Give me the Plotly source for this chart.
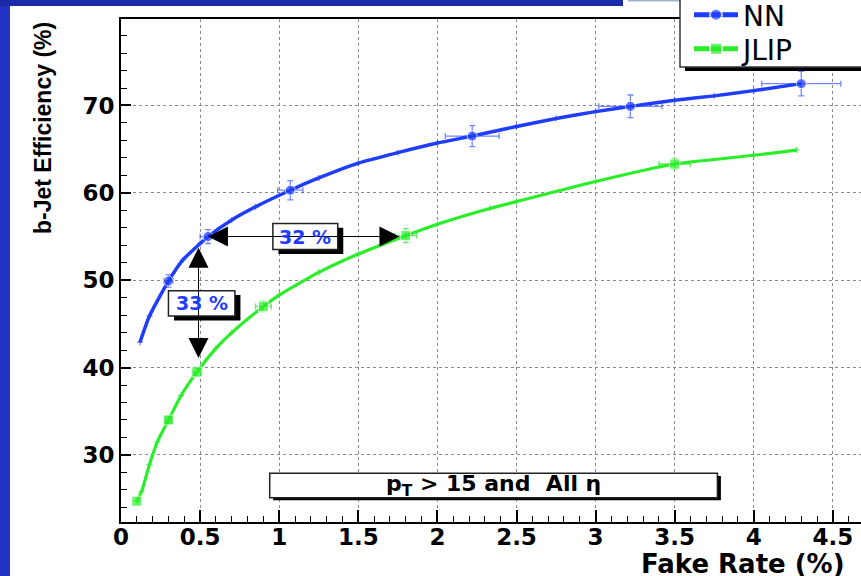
import plotly.graph_objects as go

# ---------------- data ----------------
# NN: smooth curve samples; measured points carry error values (None = curve only)
nn_x  = [0.12, 0.18, 0.30, 0.39, 0.50, 0.55, 0.70, 0.85, 1.07, 1.25, 1.50, 1.75,
         2.00, 2.22, 2.50, 2.75, 3.00, 3.22, 3.50, 3.75, 4.00, 4.30]
nn_y  = [42.9, 45.9, 49.9, 52.3, 54.2, 55.0, 56.9, 58.4, 60.3, 61.7, 63.4, 64.6,
         65.7, 66.5, 67.6, 68.5, 69.3, 69.9, 70.6, 71.1, 71.7, 72.5]
nn_ex = [None, None, 0.03, None, None, 0.05, None, None, 0.08, None, None, None,
         None, 0.17, None, None, None, 0.20, None, None, None, 0.25]
nn_ey = [None, None, 0.7, None, None, 0.8, None, None, 1.1, None, None, None,
         None, 1.2, None, None, None, 1.3, None, None, None, 1.4]

# JLIP
jl_x  = [0.10, 0.13, 0.18, 0.23, 0.30, 0.38, 0.48, 0.60, 0.70, 0.90, 1.00, 1.25,
         1.50, 1.80, 2.00, 2.33, 2.50, 3.00, 3.50, 4.00, 4.27]
jl_y  = [24.7, 25.8, 28.9, 31.5, 34.0, 36.8, 39.5, 42.2, 44.0, 47.0, 48.3, 50.9,
         53.0, 55.1, 56.4, 58.2, 59.0, 61.3, 63.3, 64.3, 64.9]
jl_ex = [0.0, None, None, None, 0.02, None, 0.03, None, None, 0.05, None, None,
         None, 0.07, None, None, None, None, 0.10, None, None]
jl_ey = [0.0, None, None, None, 0.4, None, 0.5, None, None, 0.6, None, None,
         None, 0.8, None, None, None, None, 0.6, None, None]

series_names = ["NN", "JLIP"]

x_tickvals = [0, 0.5, 1, 1.5, 2, 2.5, 3, 3.5, 4, 4.5]
x_ticktext = ["0", "0.5", "1", "1.5", "2", "2.5", "3", "3.5", "4", "4.5"]
y_tickvals = [30, 40, 50, 60, 70]
y_ticktext = ["30", "40", "50", "60", "70"]

x_title = "Fake Rate (%)"
y_title = "b-Jet Efficiency (%)"
cut_label = "p<sub>T</sub> > 15 and  All η"

# comparison arrows: horizontal at fixed efficiency, vertical at fixed fake rate
h_arrow = dict(x0=0.54, x1=1.76, y=55.0, label="32 %", bx=(0.96, 1.37), by=(53.5, 56.5))
v_arrow = dict(x=0.49, y0=53.9, y1=41.1, label="33 %", bx=(0.30, 0.72), by=(45.9, 48.8))
cut_box = dict(bx=(0.94, 3.77), by=(25.1, 27.9))

# ---------------- geometry ----------------
W, H = 861, 576
L, R, T, B = 121, 0, 19, 54
PW, PH = W - L - R, H - T - B
XMAX = PW / 158.2
YMIN, YMAX = 22.32, 79.9

def px(xp):
    return (xp - L) / PW

def py(yp):
    return (H - B - yp) / PH

BLUE = "#1f3dff"
GREEN = "#2aee2a"
TXT = "DejaVu Sans"

fig = go.Figure()

def sizes(err, s):
    return [s if e is not None else 0 for e in err]

def arr(err):
    return [e if e is not None else float("nan") for e in err]

fig.add_trace(go.Scatter(
    x=nn_x, y=nn_y, name=series_names[0], mode="lines+markers", legend="legend",
    line=dict(color=BLUE, width=3.5, shape="spline", smoothing=0.6),
    marker=dict(symbol="circle", size=sizes(nn_ex, 10), color=BLUE),
    error_x=dict(type="data", array=arr(nn_ex), color="rgba(40,70,255,0.65)", thickness=1.3, width=3),
    error_y=dict(type="data", array=arr(nn_ey), color="rgba(40,70,255,0.65)", thickness=1.3, width=3),
))
fig.add_trace(go.Scatter(
    x=jl_x, y=jl_y, name=series_names[1], mode="lines+markers", legend="legend2",
    line=dict(color=GREEN, width=3.2, shape="spline", smoothing=0.6),
    marker=dict(symbol="square", size=sizes(jl_ex, 10), color=GREEN),
    error_x=dict(type="data", array=arr(jl_ex), color="rgba(40,220,40,0.7)", thickness=1.3, width=3),
    error_y=dict(type="data", array=arr(jl_ey), color="rgba(40,220,40,0.7)", thickness=1.3, width=3),
))

shapes = []
# slide background pieces (blue frame strips)
shapes.append(dict(type="rect", xref="paper", yref="paper", x0=px(0), x1=px(10), y0=py(H), y1=py(0),
                   fillcolor="#2233c4", line=dict(width=0), layer="above"))
shapes.append(dict(type="rect", xref="paper", yref="paper", x0=px(0), x1=px(623), y0=py(6), y1=py(0),
                   fillcolor="#1a2aa8", line=dict(width=0), layer="above"))
shapes.append(dict(type="rect", xref="paper", yref="paper", x0=px(628), x1=px(817), y0=py(1.5), y1=py(0),
                   fillcolor="#9fb3cc", line=dict(width=0), layer="above"))

# legend box + shadow
shapes.append(dict(type="rect", xref="paper", yref="paper", x0=px(685), x1=px(900), y0=py(71), y1=py(-20),
                   fillcolor="black", line=dict(width=0), layer="above"))
shapes.append(dict(type="rect", xref="paper", yref="paper", x0=px(680), x1=px(900), y0=py(67), y1=py(-20),
                   fillcolor="white", line=dict(color="#333", width=1.5), layer="above"))

def label_box(box, shx, shy):
    (x0, x1), (y0, y1) = box["bx"], box["by"]
    shapes.append(dict(type="rect", xref="x", yref="y", x0=x0 + shx, x1=x1 + shx,
                       y0=y0 - shy, y1=y1 - shy,
                       fillcolor="black", line=dict(width=0), layer="above"))
    shapes.append(dict(type="rect", xref="x", yref="y", x0=x0, x1=x1, y0=y0, y1=y1,
                       fillcolor="white", line=dict(color="#222", width=1.5), layer="above"))

label_box(cut_box, 0.022, 0.3)
label_box(h_arrow, 0.035, 0.5)
label_box(v_arrow, 0.035, 0.5)

fig.update_layout(shapes=shapes)

# arrows (double-headed)
fig.add_annotation(x=h_arrow["x1"], y=h_arrow["y"], ax=h_arrow["x0"], ay=h_arrow["y"],
                   xref="x", yref="y", axref="x", ayref="y", text="", showarrow=True,
                   arrowhead=2, startarrowhead=2, arrowside="end+start",
                   arrowsize=4, startarrowsize=4, arrowwidth=1, arrowcolor="black",
                   standoff=0, startstandoff=0)
fig.add_annotation(x=v_arrow["x"], y=v_arrow["y1"], ax=v_arrow["x"], ay=v_arrow["y0"],
                   xref="x", yref="y", axref="x", ayref="y", text="", showarrow=True,
                   arrowhead=2, startarrowhead=2, arrowside="end+start",
                   arrowsize=4, startarrowsize=4, arrowwidth=1, arrowcolor="black",
                   standoff=0, startstandoff=0)

for lab in (h_arrow, v_arrow):
    (x0, x1), (y0, y1) = lab["bx"], lab["by"]
    fig.add_annotation(x=(x0 + x1) / 2, y=(y0 + y1) / 2, xref="x", yref="y", text=lab["label"],
                       showarrow=False, font=dict(family=TXT, size=19, color=BLUE, weight="bold"))

# cut label
(cx0, cx1), (cy0, cy1) = cut_box["bx"], cut_box["by"]
fig.add_annotation(x=(cx0 + cx1) / 2, y=(cy0 + cy1) / 2, xref="x", yref="y", text=cut_label,
                   showarrow=False, font=dict(family=TXT, size=22, color="black", weight="bold"))

# axis titles
fig.add_annotation(x=px(639), y=py(564), xref="paper", yref="paper", text=x_title,
                   xanchor="left", yanchor="middle", showarrow=False,
                   font=dict(family=TXT, size=26, color="black", weight="bold"))
fig.add_annotation(x=px(43), y=py(20), xref="paper", yref="paper", text=y_title,
                   textangle=-90, xanchor="center", yanchor="top", showarrow=False,
                   font=dict(family="Liberation Sans", size=23, color="black", weight="bold"))

axis_common = dict(
    showline=True, linecolor="black", linewidth=2,
    ticks="inside", tickcolor="black", tickwidth=1.5,
    showgrid=True, gridcolor="#8a8a8a", gridwidth=1, griddash="dot",
    zeroline=False, automargin=False,
    tickfont=dict(family=TXT, size=23, color="black", weight="bold"),
)
fig.update_xaxes(range=[0, XMAX], tickmode="array", tickvals=x_tickvals, ticktext=x_ticktext,
                 ticklen=12, mirror=True, ticklabelstandoff=-7,
                 minor=dict(tickmode="linear", tick0=0, dtick=0.1, ticks="inside", ticklen=6,
                            tickcolor="black", tickwidth=1.2, showgrid=False),
                 **axis_common)
fig.update_yaxes(range=[YMIN, YMAX], tickmode="array", tickvals=y_tickvals, ticktext=y_ticktext,
                 ticklen=10,
                 minor=dict(tickmode="linear", tick0=0, dtick=2, ticks="inside", ticklen=6,
                            tickcolor="black", tickwidth=1.2, showgrid=False),
                 **axis_common)

legend_common = dict(xanchor="left", yanchor="top", bgcolor="rgba(0,0,0,0)", borderwidth=0,
                     itemsizing="constant", itemwidth=44,
                     font=dict(family=TXT, size=28, color="black"))
fig.update_layout(
    width=W, height=H, autosize=False,
    margin=dict(l=L, r=R, t=T, b=B, pad=0, autoexpand=False),
    paper_bgcolor="white", plot_bgcolor="white",
    showlegend=True,
    legend=dict(x=px(689), y=py(-10), **legend_common),
    legend2=dict(x=px(689), y=py(24), **legend_common),
)

fig.write_html("out.html")
